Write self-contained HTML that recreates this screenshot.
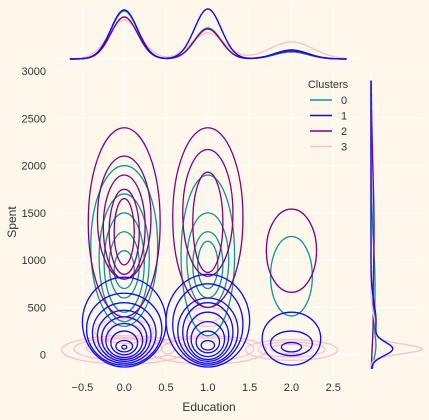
<!DOCTYPE html>
<html><head><meta charset="utf-8"><style>
body{margin:0;background:#fdf7ec;}
svg{display:block;font-family:"Liberation Sans",sans-serif;}
</style></head><body>
<svg id="c" width="429" height="420"></svg>
<script>
const xTicks=[-0.5,0,0.5,1,1.5,2,2.5];
const xTickLabels=["\u22120.5","0.0","0.5","1.0","1.5","2.0","2.5"];
const yTicks=[0,500,1000,1500,2000,2500,3000];
const clusters=["0","1","2","3"];
const colors=["#12938f","#0a0aff","#800080","#ffc0cb"];
// contour ellipses per cluster: [centerX, centerY, halfWidth, halfHeight] in data units
const contours0=[[0,1150,0.4,850],[0,1025,0.3,675],[0,975,0.24,525],[0,950,0.18,350],[0,900,0.12,200],
 [1,1050,0.32,850],[1,1000,0.25,500],[1,950,0.18,350],[1,950,0.12,250],[2,830,0.25,420]];
const contours1=[[0,345,0.5,475],[0,270,0.45,380],[0,230,0.38,320],[0,200,0.32,270],[0,175,0.27,225],[0,150,0.22,180],[0,125,0.16,125],[0,90,0.1,60],[0,80,0.03,20],
 [1,360,0.5,490],[1,320,0.42,430],[1,255,0.36,345],[1,240,0.3,310],[1,200,0.25,250],[1,165,0.2,185],[1,135,0.14,115],[1,100,0.08,50],
 [2,170,0.35,280],[2,120,0.25,130],[2,80,0.12,50]];
const contours2=[[0,1400,0.43,1000],[0,1450,0.32,650],[0,1350,0.25,550],[0,1300,0.18,450],[0,1300,0.12,350],
 [1,1450,0.42,950],[1,1500,0.3,670],[1,1400,0.18,530],[2,1100,0.3,440]];
const contours3=[[0,50,0.75,150],[0,60,0.6,120],[0,70,0.45,100],[0,80,0.32,90],[0,250,0.35,130],[0,250,0.2,80],
 [1,50,0.7,150],[1,60,0.55,120],[1,400,0.25,100],[1,400,0.15,50],[2,50,0.55,110],[2,55,0.4,80],[2,60,0.25,50]];
const contourSets=[contours0,contours1,contours2,contours3];
// top marginal: peak heights at education 0,1,2
const topPeaks0=[48,31,7];
const topPeaks1=[49,50,9];
const topPeaks2=[42,30,8];
const topPeaks3=[39,26,17];
const topPeakSets=[topPeaks0,topPeaks1,topPeaks2,topPeaks3];
// right marginal: [center spent, sigma, height] bumps
const rightBumps0=[[700,500,4],[80,120,3]];
const rightBumps1=[[60,70,20],[350,200,5]];
const rightBumps2=[[1300,700,3],[300,200,1]];
const rightBumps3=[[60,50,49],[250,150,5]];
const rightBumpSets=[rightBumps0,rightBumps1,rightBumps2,rightBumps3];

const NS="http://www.w3.org/2000/svg";
const svg=document.getElementById('c');
function mk(t,a,p){const e=document.createElementNS(NS,t);for(const k in a)e.setAttribute(k,a[k]);(p||svg).appendChild(e);return e;}
const X0=-0.78,X1=2.82,PX0=59,PX1=360;
const Y0=-225,Y1=3000,PY0=376,PY1=71;
const sx=v=>PX0+(v-X0)/(X1-X0)*(PX1-PX0);
const sy=v=>PY0-(v-Y0)/(Y1-Y0)*(PY0-PY1);
const grid=mk('g',{});


xTicks.forEach(t=>{mk('line',{x1:sx(t),x2:sx(t),y1:PY1,y2:PY0,stroke:'#fff','stroke-width':1},grid);mk('line',{x1:sx(t),x2:sx(t),y1:5,y2:59,stroke:'#fff','stroke-width':1},grid);});
yTicks.forEach(t=>{mk('line',{x1:PX0,x2:PX1,y1:sy(t),y2:sy(t),stroke:'#fff','stroke-width':1},grid);mk('line',{x1:371,x2:422,y1:sy(t),y2:sy(t),stroke:'#fff','stroke-width':1},grid);});
mk('line',{x1:PX0,x2:PX1,y1:59,y2:59,stroke:'#fff'},grid);
mk('line',{x1:371,x2:371,y1:PY1,y2:PY0,stroke:'#fff'},grid);
xTicks.forEach((t,i)=>{const e=mk('text',{x:sx(t),y:391,'text-anchor':'middle','font-size':11,fill:'#333'});e.textContent=xTickLabels[i];

});
yTicks.forEach(t=>{const e=mk('text',{x:46,y:sy(t)+4,'text-anchor':'end','font-size':11,fill:'#333'});e.textContent=t;

});
let e=mk('text',{x:209,y:411,'text-anchor':'middle','font-size':12,fill:'#333'});e.textContent='Education';


e=mk('text',{x:16,y:222,'text-anchor':'middle','font-size':12,fill:'#333',transform:'rotate(-90 16 222)'});e.textContent='Spent';


const clip=mk('clipPath',{id:'cl'});mk('rect',{x:PX0,y:PY1,width:PX1-PX0,height:PY0-PY1},clip);
[3,0,2,1].forEach(ci=>{
 const g=mk('g',{'clip-path':'url(#cl)'});
 
 
 contourSets[ci].forEach(c=>{
  const el=mk('ellipse',{cx:sx(c[0]),cy:sy(c[1]),rx:Math.abs(sx(c[2])-sx(0)),ry:Math.abs(sy(0)-sy(c[3])),fill:'none',stroke:colors[ci],'stroke-width':1.3},g);
  
  
 });
});
[3,0,2,1].forEach(ci=>{
 let d='';const pk=topPeakSets[ci];const sg=ci==3?[0.19,0.2,0.26]:[0.16,0.16,0.2];
 for(let v=-0.65;v<=2.66;v+=0.01){let s=0;pk.forEach((h,k)=>{s+=h*Math.exp(-0.5*((v-k)/sg[k])**2);});d+=(d?'L':'M')+sx(v).toFixed(1)+' '+(59-s).toFixed(1);}
 const p=mk('path',{d:d,fill:'none',stroke:colors[ci],'stroke-width':1.4});
 
 
});
[0,2,3,1].forEach(ci=>{
 let d='';const bs=rightBumpSets[ci];
 for(let v=-150;v<=2900;v+=10){let s=0;bs.forEach(b=>{s+=b[2]*Math.exp(-0.5*((v-b[0])/b[1])**2);});d+=(d?'L':'M')+(371+s).toFixed(1)+' '+sy(v).toFixed(1);}
 const p=mk('path',{d:d,fill:'none',stroke:colors[ci],'stroke-width':1.4});
 
 
});
const lg=mk('g',{});


e=mk('text',{x:328,y:88,'text-anchor':'middle','font-size':11,fill:'#333'},lg);e.textContent='Clusters';
clusters.forEach((c,i)=>{const y=100+i*15.5;
 const it=mk('g',{},lg);
 
 
 mk('line',{x1:310,x2:332,y1:y,y2:y,stroke:colors[i],'stroke-width':1.6},it);
 const t=mk('text',{x:341,y:y+4,'font-size':11,fill:'#333'},it);t.textContent=c;});
</script>
</body></html>
